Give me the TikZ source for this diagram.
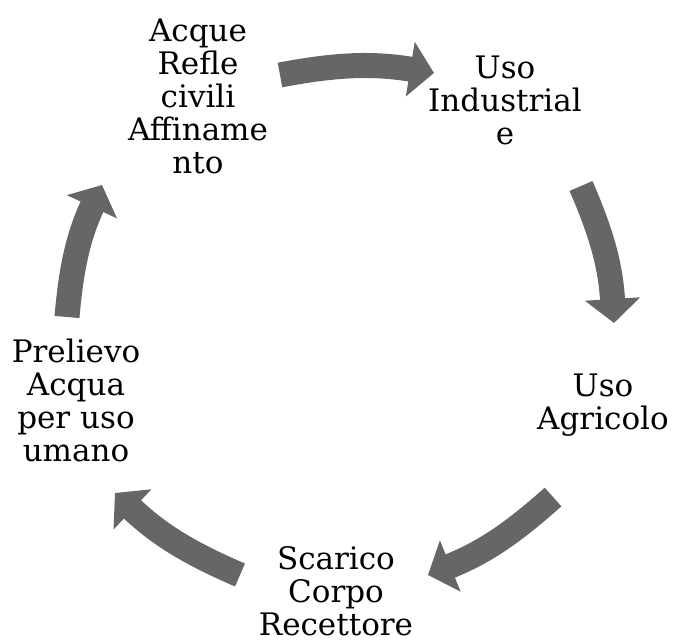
\documentclass[tikz,border=0pt]{standalone}
\usepackage{fontspec}
\setmainfont{DejaVu Serif}
\usetikzlibrary{arrows.meta}
\begin{document}
\begin{tikzpicture}[x=1pt,y=1pt,
  lbl/.style={align=center, font=\fontsize{31}{33}\selectfont, inner sep=0pt},
  cyc/.style={draw=black!60, line width=25pt, -{Triangle[width=54pt,length=24pt]}, bend left=10}]
\useasboundingbox (0,0) rectangle (673,643);
\node[lbl] (acque) at (198,547) {Acque\\Refle\\civili\\Affiname\\nto};
\node[lbl] (ind) at (505,543) {Uso\\Industrial\\e};
\node[lbl] (agr) at (603,238) {Uso\\Agricolo};
\node[lbl] (sca) at (336,52) {Scarico\\Corpo\\Recettore};
\node[lbl] (pre) at (76,243) {Prelievo\\Acqua\\per uso\\umano};
\coordinate (a1s) at (280,568); \coordinate (a1e) at (434,570);
\coordinate (a2s) at (581,457); \coordinate (a2e) at (614,320);
\coordinate (a3s) at (553,146); \coordinate (a3e) at (428,68);
\coordinate (a4s) at (240,68);  \coordinate (a4e) at (115,150);
\coordinate (a5s) at (67,326);  \coordinate (a5e) at (102,458);
\draw[cyc] (a1s) to (a1e);
\draw[cyc] (a2s) to (a2e);
\draw[cyc] (a3s) to (a3e);
\draw[cyc] (a4s) to (a4e);
\draw[cyc] (a5s) to (a5e);
\end{tikzpicture}
\end{document}
